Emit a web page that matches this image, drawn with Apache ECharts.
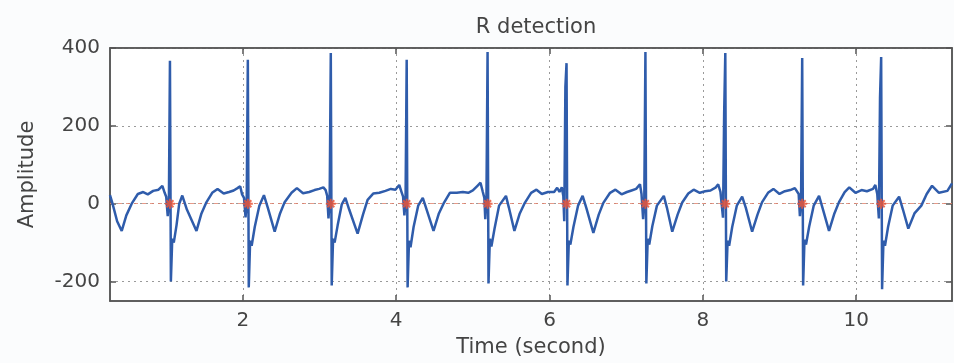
<!DOCTYPE html>
<html>
<head>
<meta charset="utf-8">
<script src="https://cdn.jsdelivr.net/npm/echarts@6/dist/echarts.min.js"></script>
<style>
html,body{margin:0;padding:0;background:#fbfcfd;}
#chart{width:954px;height:363px;}
</style>
</head>
<body>
<div id="chart"></div>
<script>
// ECG trace (time in seconds, amplitude)
var ecgTime = [
0.267,0.30,0.36,0.42,0.48,0.55,0.63,0.70,0.76,0.83,0.90,0.95,0.98,1.00,1.02,1.035,
1.049,1.061,1.079,1.099,1.135,1.17,1.21,1.27,1.395,1.46,1.52,1.60,1.67,1.75,1.82,1.88,1.93,1.965,1.99,2.015,2.035,2.05,
2.065,2.077,2.095,2.115,2.155,2.215,2.275,2.325,2.415,2.485,2.545,2.635,2.705,2.785,2.865,2.935,2.995,3.05,3.08,3.10,3.117,3.132,
3.147,3.159,3.177,3.197,3.237,3.29,3.337,3.387,3.497,3.567,3.627,3.70,3.78,3.86,3.93,3.99,4.04,4.07,4.09,4.107,4.122,
4.137,4.149,4.167,4.187,4.227,4.287,4.347,4.397,4.487,4.557,4.617,4.70,4.79,4.87,4.94,5.00,5.06,5.10,5.13,5.15,5.162,5.177,
5.192,5.204,5.222,5.242,5.282,5.342,5.432,5.47,5.542,5.612,5.672,5.76,5.83,5.90,5.98,6.06,6.10,6.13,6.16,6.18,6.192,6.207,
6.222,6.234,6.252,6.272,6.312,6.372,6.432,6.482,6.572,6.642,6.702,6.79,6.86,6.94,7.01,7.07,7.13,7.18,7.20,7.221,7.236,
7.251,7.263,7.281,7.301,7.341,7.401,7.491,7.531,7.601,7.671,7.731,7.81,7.88,7.96,8.03,8.10,8.17,8.20,8.23,8.263,8.278,
8.293,8.305,8.323,8.343,8.383,8.443,8.513,8.56,8.643,8.713,8.773,8.85,8.92,9.00,9.07,9.14,9.20,9.22,9.25,9.266,9.281,
9.296,9.308,9.326,9.346,9.386,9.446,9.516,9.56,9.646,9.716,9.776,9.85,9.91,9.99,10.07,10.14,10.22,10.25,10.275,10.296,10.311,
10.326,10.338,10.356,10.376,10.416,10.476,10.56,10.61,10.68,10.76,10.85,10.92,10.99,11.08,11.19,11.25
];
var ecgAmp = [
22,0,-45,-70,-30,0,25,30,24,33,36,46,28,18,-32,4,
367,-200,-90,-100,-55,0,21,-15,-70,-25,2,28,38,26,30,34,40,45,24,15,-35,2,
370,-215,-95,-108,-60,-5,22,-10,-72,-25,4,28,40,27,30,35,38,42,35,20,-38,5,
387,-210,-90,-100,-55,-2,15,-15,-77,-28,10,26,28,33,38,36,48,30,18,-30,6,
370,-215,-95,-112,-60,-5,15,-15,-70,-25,0,28,28,30,28,34,46,54,30,15,-40,4,
390,-205,-90,-110,-65,-5,20,-10,-70,-25,0,28,36,25,30,30,41,30,42,20,-45,300,
361,-210,-95,-105,-60,-5,20,-12,-75,-28,2,28,36,24,30,34,38,50,25,-40,5,
390,-205,-90,-105,-58,-5,20,-10,-72,-28,3,26,36,28,32,34,42,50,30,-36,233,
387,-200,-95,-108,-60,-5,18,-10,-72,-28,4,28,38,25,32,35,40,42,25,-32,5,
374,-210,-92,-105,-60,-5,20,-10,-70,-25,4,30,42,28,35,32,38,48,25,-38,272,
377,-220,-95,-108,-60,-5,18,-15,-64,-25,-5,25,46,28,33,52
];
// detected R-peak times (markers drawn on the zero line)
var rTimes = [1.049,2.065,3.147,4.137,5.192,6.222,7.251,8.293,9.296,10.326];
var rMarkLevel = [0,0,0,0,0,0,0,0,0,0];
var xTicks = [2,4,6,8,10];
var yTicks = [-200,0,200,400];

var ecgData = ecgTime.map(function(t,i){return [t, ecgAmp[i]];});
var rData = rTimes.map(function(t,i){return [t, rMarkLevel[i]];});

var FONT = 'DejaVu Sans';
var frame = '#555555';
var gridStyle = {color:'#9a9a9a', type:[2,4], width:1};

var chart = echarts.init(document.getElementById('chart'), null, {renderer:'canvas'});
chart.setOption({
  animation:false,
  backgroundColor:'#fbfcfd',
  title:{text:'R detection', left:531, top:12, textAlign:'center',
    textStyle:{fontFamily:FONT, fontSize:21, fontWeight:'normal', color:'#444'}},
  grid:{left:110, right:2, top:48, bottom:62, show:true, backgroundColor:'#ffffff', borderColor:frame, borderWidth:1.5},
  xAxis:[{
    type:'value', min:0.267, max:11.25,
    name:'Time (second)', nameLocation:'middle', nameGap:36,
    nameTextStyle:{fontFamily:FONT, fontSize:21, color:'#444'},
    axisLine:{show:true, onZero:false, lineStyle:{color:frame, width:1.5}},
    axisTick:{show:true, inside:true, length:6, customValues:xTicks, lineStyle:{color:frame, width:1.5}},
    axisLabel:{customValues:xTicks, margin:10, fontFamily:FONT, fontSize:20, color:'#444'},
    splitLine:{show:true, lineStyle:gridStyle}
  },{
    type:'value', position:'top', min:0.267, max:11.25,
    axisLine:{show:true, onZero:false, lineStyle:{color:frame, width:1.5}},
    axisTick:{show:true, inside:true, length:6, customValues:xTicks, lineStyle:{color:frame, width:1.5}},
    axisLabel:{show:false}, splitLine:{show:false}
  }],
  yAxis:[{
    type:'value', min:-250, max:400,
    name:'Amplitude', nameLocation:'middle', nameGap:72, nameRotate:90,
    nameTextStyle:{fontFamily:FONT, fontSize:21, color:'#444'},
    axisLine:{show:true, onZero:false, lineStyle:{color:frame, width:1.5}},
    axisTick:{show:true, inside:true, length:6, customValues:yTicks, lineStyle:{color:frame, width:1.5}},
    axisLabel:{customValues:yTicks, margin:10, fontFamily:FONT, fontSize:20, color:'#444'},
    splitLine:{show:true, lineStyle:gridStyle}
  },{
    type:'value', position:'right', min:-250, max:400,
    axisLine:{show:true, onZero:false, lineStyle:{color:frame, width:1.5}},
    axisTick:{show:true, inside:true, length:6, customValues:yTicks, lineStyle:{color:frame, width:1.5}},
    axisLabel:{show:false}, splitLine:{show:false}
  }],
  series:[{
    type:'line', data:ecgData, showSymbol:false, symbol:'none',
    lineStyle:{color:'#2f5cab', width:2.5}, z:3,
    markLine:{silent:true, symbol:'none', label:{show:false},
      lineStyle:{color:'#e0806a', type:[4,4], width:1, opacity:0.8},
      data:[{yAxis:0}], z:2}
  },{
    type:'scatter', data:rData, z:4,
    symbol:'path://M4,0 L4,8 M0,4 L8,4 M1.2,1.2 L6.8,6.8 M6.8,1.2 L1.2,6.8',
    symbolSize:10,
    itemStyle:{color:'#e8553a', borderColor:'#e8553a', borderWidth:2, opacity:0.85}
  }]
});
</script>
</body>
</html>
